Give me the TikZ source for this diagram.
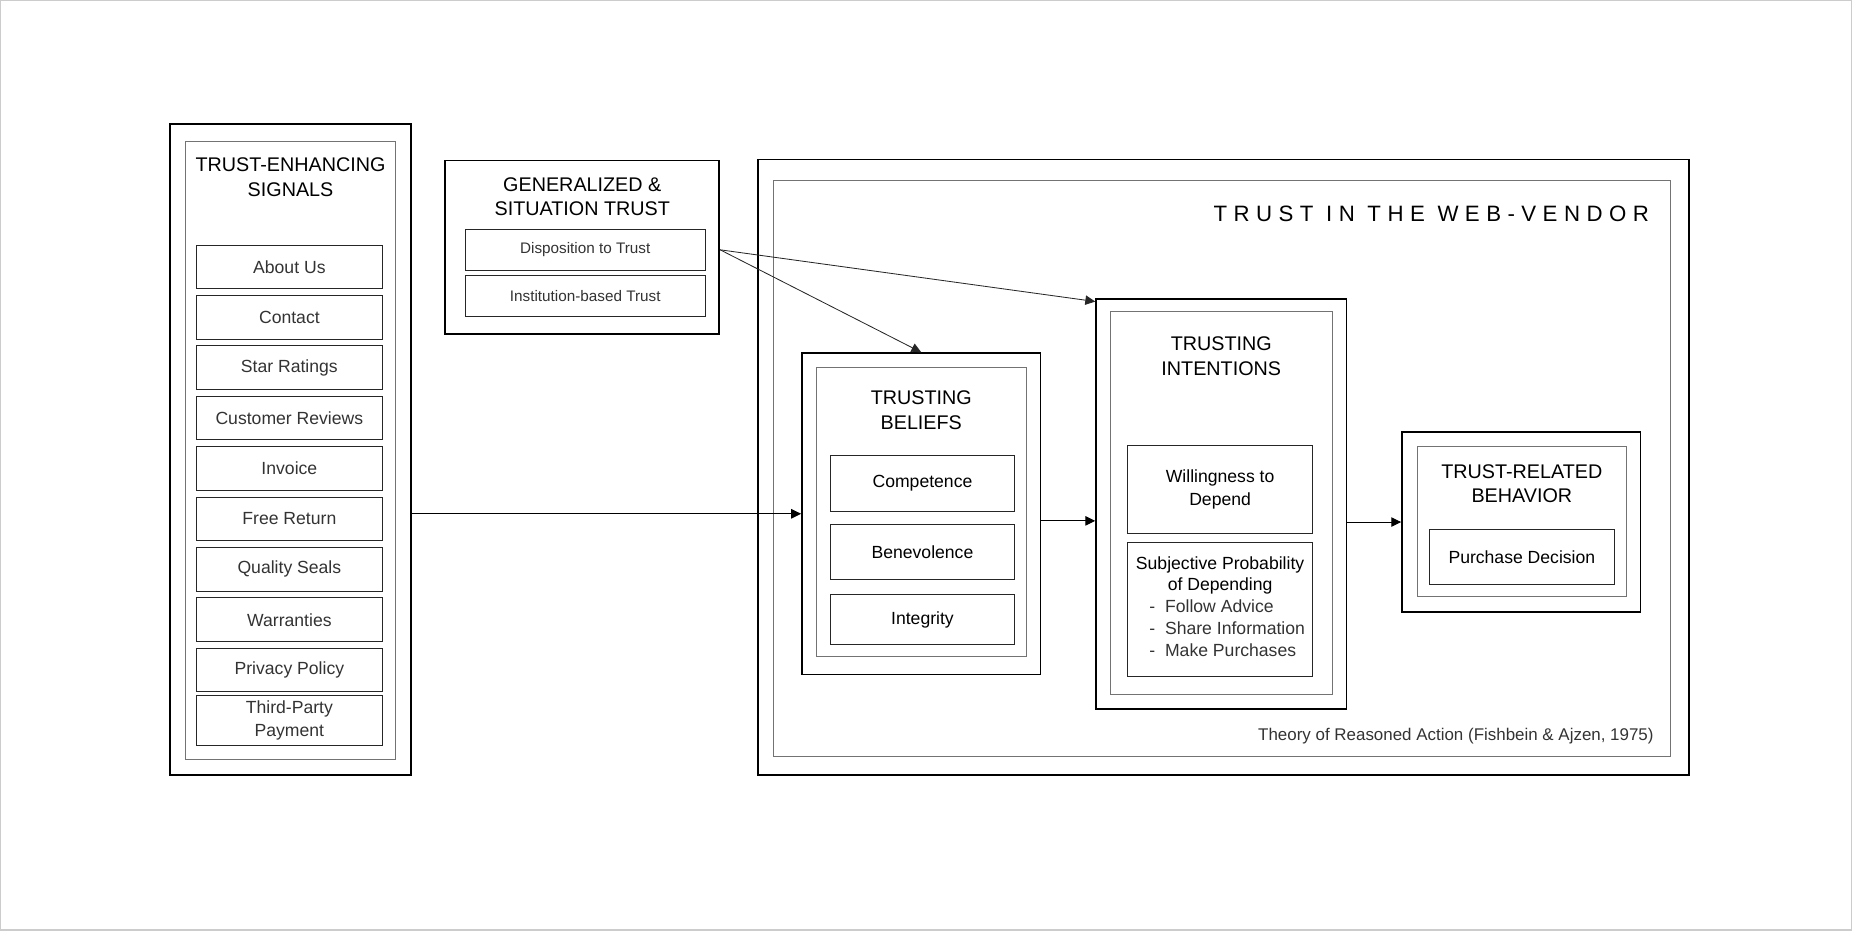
\documentclass[tikz,border=0pt]{standalone}
\usepackage{fontspec}
\setmainfont{Liberation Sans}
\newfontfamily\spacedfont[LetterSpace=29]{Liberation Sans}
\usetikzlibrary{arrows.meta}

\begin{document}
\begin{tikzpicture}[x=0.25mm,y=-0.25mm,
  outerbox/.style={draw,line width=1pt,inner sep=0pt},
  innerbox/.style={draw=black!55,line width=0.5pt,inner sep=0pt},
  itembox/.style={draw=black!85,line width=0.6pt,minimum width=39.25mm,minimum height=9.25mm,
    align=center,text=black!80,font=\fontsize{10.6}{13.5}\selectfont},
  boxtitle/.style={align=center,font=\fontsize{11.9}{14.9}\selectfont},
  arr/.style={-{Triangle[length=2.1mm,width=2mm]},line width=0.6pt}]
  \useasboundingbox (0,0) rectangle (1568,788);
  \draw[black!20,line width=0.8pt] (0.5,0.5) rectangle (1567.5,787.5);

  % trust-enhancing signals
  \node[outerbox,minimum width=51mm,minimum height=137.75mm] (tes) at (246,380.5) {};
  \node[innerbox,minimum width=44.5mm,minimum height=130.75mm] (tesIn) at (246,381.5) {};
  \node[boxtitle] (tesT) at (246,150) {TRUST-ENHANCING\\SIGNALS};
  \foreach \i/\txt in {0/About Us,1/Contact,2/Star Ratings,3/Customer Reviews,4/Invoice,
      5/Free Return,6/Quality Seals,7/Warranties,8/Privacy Policy,9/{Third-Party\\Payment}}
    \node[itembox] (sig\i) at (245,226+42.67*\i) {\txt};

  % generalized & situation trust
  \node[outerbox,minimum width=58mm,minimum height=36.75mm] (gen) at (493,209.5) {};
  \node[boxtitle] (genT) at (493,166.5) {GENERALIZED \&\\SITUATION TRUST};
  \node[itembox,minimum width=50.75mm,minimum height=8.75mm,font=\fontsize{9.2}{11}\selectfont] (dispo) at (495.5,211.5) {Disposition to Trust};
  \node[itembox,minimum width=50.75mm,minimum height=8.75mm,font=\fontsize{9.2}{11}\selectfont] (inst) at (495.5,250.5) {Institution-based Trust};

  % trust in the web-vendor
  \node[outerbox,minimum width=197mm,minimum height=130.25mm] (twv) at (1036,395.5) {};
  \node[innerbox,minimum width=189.75mm,minimum height=121.75mm] (twvIn) at (1034.5,396.5) {};
  \node[anchor=east,font=\spacedfont\fontsize{13.4}{16}\selectfont] (twvT) at (1401,181) {TRUST IN THE WEB-VENDOR};
  \node[anchor=east,text=black!80,font=\fontsize{10.2}{12}\selectfont] (tra) at (1405,623) {Theory of Reasoned Action (Fishbein \& Ajzen, 1975)};

  % trusting beliefs
  \node[outerbox,minimum width=50.5mm,minimum height=68mm] (tb) at (780,435) {};
  \node[innerbox,minimum width=44.5mm,minimum height=61.25mm] (tbIn) at (780,433.5) {};
  \node[boxtitle] (tbT) at (780,347.5) {TRUSTING\\BELIEFS};
  \node[itembox,text=black,minimum width=39mm,minimum height=11.75mm] (comp) at (781,409.5) {Competence};
  \node[itembox,text=black,minimum width=39mm,minimum height=11.75mm] (bene) at (781,467.5) {Benevolence};
  \node[itembox,text=black,minimum width=39mm,minimum height=10.75mm] (integ) at (781,524.5) {Integrity};

  % trusting intentions
  \node[outerbox,minimum width=53mm,minimum height=86.75mm] (ti) at (1034,426.5) {};
  \node[innerbox,minimum width=47mm,minimum height=81mm] (tiIn) at (1034,426) {};
  \node[boxtitle] (tiT) at (1034,301.5) {TRUSTING\\INTENTIONS};
  \node[itembox,text=black,minimum width=39mm,minimum height=18.75mm] (will) at (1033,414.5) {Willingness to\\Depend};
  \node[itembox,text=black,minimum width=39mm,minimum height=28.5mm,font=\fontsize{10.6}{13.1}\selectfont] (subj) at (1033,516)
    {Subjective Probability\\of Depending\\
     {\color{black!80}\begin{tabular}[t]{@{\hspace{3mm}}l@{}}-\ \ Follow Advice\\-\ \ Share Information\\-\ \ Make Purchases\end{tabular}}};

  % trust-related behavior
  \node[outerbox,minimum width=50.5mm,minimum height=38mm] (trb) at (1288,442) {};
  \node[innerbox,minimum width=44.25mm,minimum height=31.75mm] (trbIn) at (1288.5,441.5) {};
  \node[boxtitle] (trbT) at (1288.5,409.5) {TRUST-RELATED\\BEHAVIOR};
  \node[itembox,text=black,minimum height=11.75mm] (buy) at (1288.5,471.5) {Purchase Decision};

  % connectors
  \coordinate (tbOut) at ([yshift=-1.5mm]tb.east);
  \draw[arr] (tes.east |- tb.west) -- (tb.west);
  \draw[arr] (tbOut) -- (tbOut -| ti.west);
  \draw[arr] (ti.east |- trb.west) -- (trb.west);
  \draw[arr,line width=0.5pt,black!85] (gen.east |- dispo.east) -- (tb.north);
  \draw[arr,line width=0.5pt,black!85] (gen.east |- dispo.east) -- ([yshift=-0.75mm]ti.north west);
\end{tikzpicture}
\end{document}
